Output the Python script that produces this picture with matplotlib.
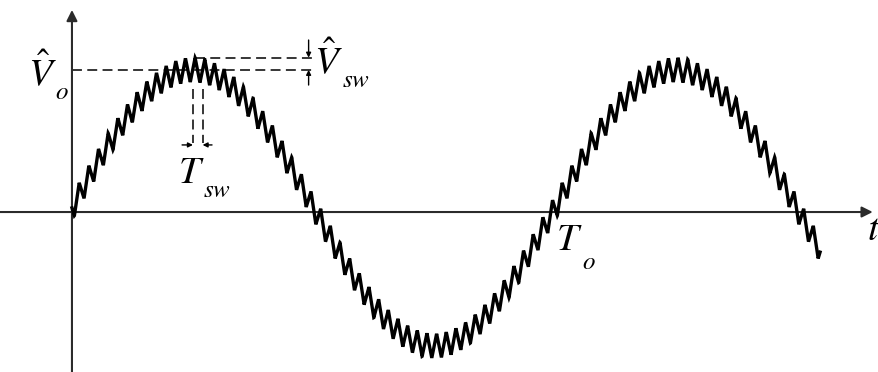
import numpy as np
import matplotlib
matplotlib.use("Agg")
import matplotlib.pyplot as plt

plt.rcParams['mathtext.fontset'] = 'stix'
plt.rcParams['font.family'] = ['STIXGeneral', 'DejaVu Serif']

# waveform, time in units of the output period T_o, voltage in units of V_o peak
T_o = 1.0
T_sw = 0.02            # 50 switching periods per output period
V_o_hat = 1.0
V_sw_hat = 0.088       # half of the ripple swing
V_dc = 0.03            # ripple is not quite centred on the sine
t_end = 1.549

# view window
x_lim = [-0.149, 1.671]
y_lim = [-1.159, 1.536]

# markers for the ripple amplitude and the switching period
t_sw_marks = [0.2505, 0.2505 + T_sw]
v_line_lo = V_o_hat + V_dc
v_line_hi = V_o_hat + V_dc + V_sw_hat

axis_col = '#2b2b2b'

t = np.linspace(0, t_end, 20000)
tri = (2 / np.pi) * np.arcsin(np.sin(2 * np.pi * t / T_sw + np.pi))
v = V_o_hat * np.sin(2 * np.pi * t / T_o) + V_dc + V_sw_hat * tri

fig = plt.figure(figsize=(8.79, 3.72), dpi=100)
ax = fig.add_axes([0, 0, 1, 1])
ax.set_xlim(x_lim)
ax.set_ylim(y_lim)
ax.axis('off')

# axes with arrow heads
head = dict(arrowstyle='-|>', color=axis_col, lw=1.5, mutation_scale=16,
            shrinkA=0, shrinkB=0)
ax.annotate('', xy=(1.658, 0), xytext=(x_lim[0], 0), arrowprops=head)
ax.annotate('', xy=(0, 1.464), xytext=(0, y_lim[0]), arrowprops=head)

ax.plot(t, v, color='black', lw=2.4, solid_joinstyle='miter', zorder=3)

# dashed guide lines
dash = dict(color='black', lw=1.1, dashes=(6.5, 3.5))
ax.plot([0, 0.497], [v_line_lo, v_line_lo], **dash)
ax.plot([0.255, 0.497], [v_line_hi, v_line_hi], **dash)
for ts in t_sw_marks:
    ax.plot([ts, ts], [0.89, 0.50], **dash)

small = dict(arrowstyle='-|>', color='black', lw=1.0, mutation_scale=7,
             shrinkA=0, shrinkB=0)
ax.annotate('', xy=(0.49, v_line_hi), xytext=(0.49, 1.246), arrowprops=small)
ax.annotate('', xy=(0.49, v_line_lo), xytext=(0.49, 0.92), arrowprops=small)
ax.annotate('', xy=(t_sw_marks[0], 0.486), xytext=(0.228, 0.486), arrowprops=small)
ax.annotate('', xy=(t_sw_marks[1], 0.486), xytext=(0.29, 0.486), arrowprops=small)

# labels
big = 28
sub = 18
ax.text(-0.062, 0.92, r'$\hat{V}$', fontsize=big, ha='center', va='baseline')
ax.text(-0.02, 0.82, r'$o$', fontsize=sub, ha='center', va='baseline')
ax.text(0.53, 1.007, r'$\hat{V}$', fontsize=big, ha='center', va='baseline')
ax.text(0.588, 0.905, r'$sw$', fontsize=sub, ha='center', va='baseline')
ax.text(0.248, 0.21, r'$T$', fontsize=big, ha='center', va='baseline')
ax.text(0.30, 0.11, r'$sw$', fontsize=sub, ha='center', va='baseline')
ax.text(1.029, -0.275, r'$T$', fontsize=big, ha='center', va='baseline')
ax.text(1.07, -0.415, r'$o$', fontsize=sub, ha='center', va='baseline')
ax.text(1.646, -0.203, r'$t$', fontsize=big, ha='left', va='baseline')

fig.savefig('out.png', dpi=100)
